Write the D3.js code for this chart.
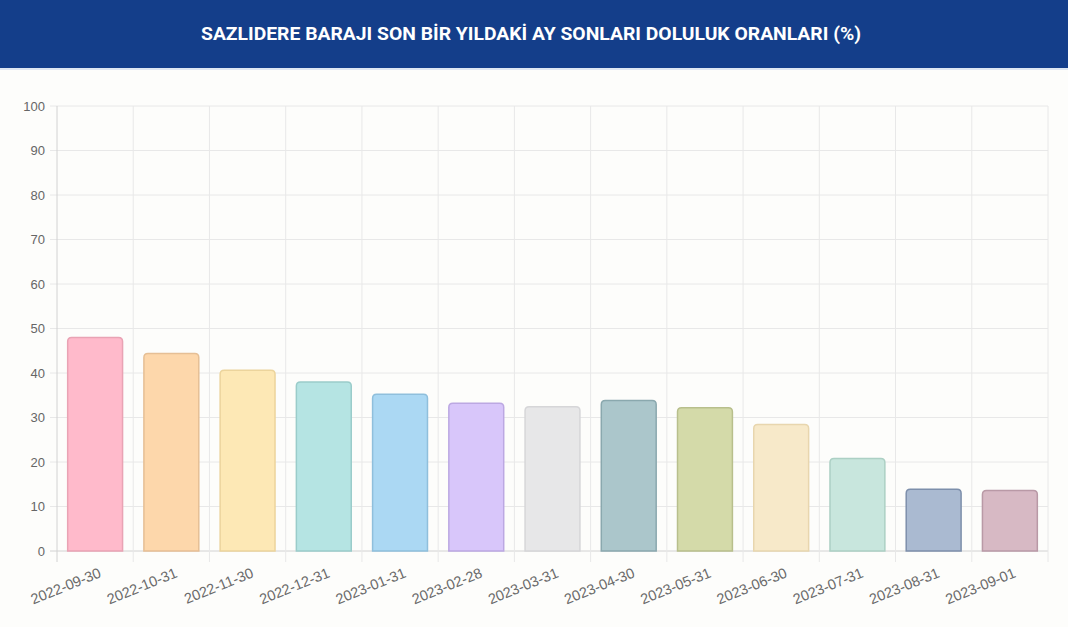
<!DOCTYPE html>
<html>
<head>
<meta charset="utf-8">
<script src="https://cdn.jsdelivr.net/npm/d3@7"></script>
<style>
  body { margin: 0; background: #fdfdfb; }
  svg { display: block; }
</style>
</head>
<body>
<div id="main"></div>
<script>
  // data
  var title = "SAZLIDERE BARAJI SON BİR YILDAKİ AY SONLARI DOLULUK ORANLARI (%)";
  var dates = ["2022-09-30", "2022-10-31", "2022-11-30", "2022-12-31", "2023-01-31",
               "2023-02-28", "2023-03-31", "2023-04-30", "2023-05-31", "2023-06-30",
               "2023-07-31", "2023-08-31", "2023-09-01"];
  var fullness = [48.0, 44.4, 40.6, 38.0, 35.2, 33.2, 32.4, 33.8, 32.2, 28.4, 20.8, 13.9, 13.6];
  var yTicks = [0, 10, 20, 30, 40, 50, 60, 70, 80, 90, 100];
  var fills = ["#ffbacb", "#fdd7ab", "#fde8b5", "#b5e4e3", "#abd8f3", "#d8c6fa", "#e7e7e8",
               "#abc6cb", "#d4daa9", "#f7e9c9", "#c8e6dd", "#aabad1", "#d7b9c4"];
  var strokes = ["#e9a3b4", "#e6bf95", "#ecd49c", "#9accca", "#8fbfdc", "#bca8e2", "#d6d6d8",
                 "#8aa8ae", "#b8bf8c", "#e8d6ae", "#acd0c4", "#7d8fab", "#b999a6"];

  var W = 1068, H = 627;
  var svg = d3.select("#main").append("svg")
      .attr("width", W)
      .attr("height", H);

  // header band
  svg.append("rect")
      .attr("x", 0).attr("y", 0)
      .attr("width", W).attr("height", 68)
      .attr("fill", "#143e8a");
  svg.append("rect")
      .attr("x", 0).attr("y", 68)
      .attr("width", W).attr("height", 2)
      .attr("fill", "#dfe7f2");
  svg.append("text")
      .attr("x", 531)
      .attr("y", 40)
      .attr("text-anchor", "middle")
      .attr("textLength", 660)
      .attr("lengthAdjust", "spacingAndGlyphs")
      .attr("fill", "#ffffff")
      .style("font-family", "Roboto, 'Liberation Sans', sans-serif")
      .style("font-weight", "bold")
      .style("font-size", "18px")
      .text(title);

  var plotL = 57, plotR = 1048, plotT = 106, plotB = 551;

  var x = d3.scaleBand()
      .domain(dates)
      .range([plotL, plotR]);
  var y = d3.scaleLinear()
      .domain([0, 100])
      .range([plotB, plotT]);

  // horizontal grid + y ticks
  svg.append("g")
      .selectAll("line")
      .data(yTicks)
      .join("line")
      .attr("x1", plotL - 7)
      .attr("x2", plotR)
      .attr("y1", d => y(d))
      .attr("y2", d => y(d))
      .attr("stroke", d => d === 0 ? "#d2d2d2" : "#e8e8e8")
      .attr("stroke-width", 1);

  svg.append("g")
      .selectAll("text")
      .data(yTicks)
      .join("text")
      .attr("x", plotL - 12)
      .attr("y", d => y(d))
      .attr("dy", "0.35em")
      .attr("text-anchor", "end")
      .attr("fill", "#666")
      .style("font-family", "'Liberation Sans', Arial, sans-serif")
      .style("font-size", "13px")
      .text(d => d);

  // vertical grid at category edges
  var edges = dates.map(d => x(d)).concat([plotR]);
  svg.append("g")
      .selectAll("line")
      .data(edges)
      .join("line")
      .attr("x1", d => d)
      .attr("x2", d => d)
      .attr("y1", plotT)
      .attr("y2", plotB + 11)
      .attr("stroke", (d, i) => i === 0 ? "#d2d2d2" : "#e8e8e8")
      .attr("stroke-width", 1);

  // bars with rounded tops
  var bw = x.bandwidth() * 0.72;
  var r = 4;
  function barPath(d, i) {
    var x0 = x(dates[i]) + (x.bandwidth() - bw) / 2, x1 = x0 + bw;
    var y0 = y(d), y1 = y(0);
    return "M" + x0 + "," + y1 +
      "L" + x0 + "," + (y0 + r) +
      "Q" + x0 + "," + y0 + " " + (x0 + r) + "," + y0 +
      "L" + (x1 - r) + "," + y0 +
      "Q" + x1 + "," + y0 + " " + x1 + "," + (y0 + r) +
      "L" + x1 + "," + y1 + "Z";
  }
  svg.append("g")
      .selectAll("path")
      .data(fullness)
      .join("path")
      .attr("d", barPath)
      .attr("fill", (d, i) => fills[i])
      .attr("stroke", (d, i) => strokes[i])
      .attr("stroke-width", 1.5);

  // rotated x labels
  svg.append("g")
      .selectAll("text")
      .data(dates)
      .join("text")
      .attr("transform", d => "translate(" + (x(d) + x.bandwidth() / 2 + 5) + "," + (plotB + 21) + ") rotate(-22)")
      .attr("text-anchor", "end")
      .attr("dy", "0.35em")
      .attr("fill", "#6a6a6a")
      .style("font-family", "'Liberation Sans', Arial, sans-serif")
      .style("font-size", "14.5px")
      .text(d => d);
</script>
</body>
</html>
